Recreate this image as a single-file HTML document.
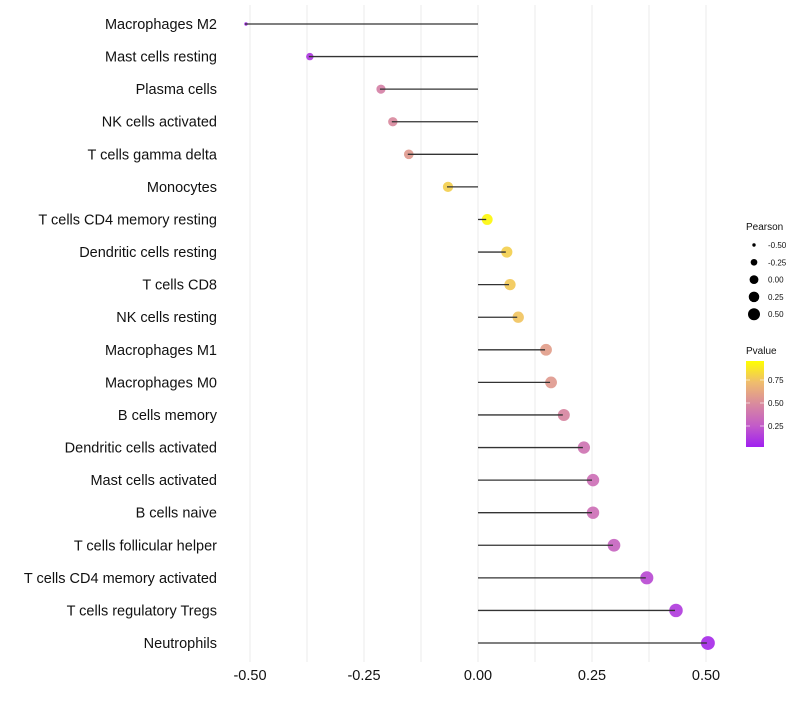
<!DOCTYPE html>
<html><head><meta charset="utf-8"><style>
body{margin:0;background:#fff;font-family:"Liberation Sans",sans-serif}
svg text{font-family:"Liberation Sans",sans-serif}
</style></head><body>
<svg id="chart" width="800" height="700">
<defs><linearGradient id="pg" x1="0" y1="1" x2="0" y2="0">
<stop offset="0" stop-color="#a020f0"/><stop offset="0.25" stop-color="#c35cc8"/><stop offset="0.5" stop-color="#d98a9e"/><stop offset="0.75" stop-color="#efbc6e"/><stop offset="1" stop-color="#ffff00"/>
</linearGradient></defs>
<g id="grid"></g>
<g id="marks"></g>
<g id="ylabels"></g>
<g id="xlabels"></g>
<g id="legend"></g>
</svg>
<script>
const categories=["Macrophages M2","Mast cells resting","Plasma cells","NK cells activated","T cells gamma delta","Monocytes","T cells CD4 memory resting","Dendritic cells resting","T cells CD8","NK cells resting","Macrophages M1","Macrophages M0","B cells memory","Dendritic cells activated","Mast cells activated","B cells naive","T cells follicular helper","T cells CD4 memory activated","T cells regulatory  Tregs ","Neutrophils"];
const pearson=[-0.511,-0.371,-0.215,-0.189,-0.154,-0.068,0.018,0.061,0.068,0.086,0.147,0.158,0.186,0.230,0.250,0.250,0.296,0.368,0.432,0.502];
const pvalue=[0.03,0.1,0.45,0.5,0.58,0.82,0.97,0.82,0.8,0.78,0.6,0.58,0.48,0.38,0.36,0.36,0.3,0.18,0.12,0.05];
const xTicks=[-0.5,-0.25,0,0.25,0.5];
const xTickLabels=["-0.50","-0.25","0.00","0.25","0.50"];
const sizeLegend=[-0.5,-0.25,0,0.25,0.5];
const sizeLegendLabels=["-0.50","-0.25","0.00","0.25","0.50"];
const pTicks=[0.25,0.5,0.75];
const pTickLabels=["0.25","0.50","0.75"];
const NS="http://www.w3.org/2000/svg";
function mk(t,a,p){const e=document.createElementNS(NS,t);for(const k in a)e.setAttribute(k,a[k]);p.appendChild(e);return e;}
const X=v=>478+v*456;
const Y=i=>24+i*32.58;
const RL=v=>Math.sqrt(2.9+(v+0.5)*33.1);
const R=v=>v<-0.37?Math.sqrt(Math.max(3,3+(v+0.511)*78)):Math.sqrt(15+(v+0.37)*38);
const stops=[[0,[160,32,240]],[0.25,[195,92,200]],[0.5,[217,138,158]],[0.75,[239,188,110]],[1,[255,255,0]]];
function col(p){for(let i=1;i<stops.length;i++){if(p<=stops[i][0]){const a=stops[i-1],b=stops[i];const t=(p-a[0])/(b[0]-a[0]);return 'rgb('+a[1].map((c,j)=>Math.round(c+(b[1][j]-c)*t)).join(',')+')';}}return 'rgb(255,255,0)';}
const grid=document.getElementById('grid');
for(let v=-0.5;v<=0.5001;v+=0.125){const g=mk('line',{x1:X(v),x2:X(v),y1:5,y2:662,stroke:'#ebebeb','stroke-width':1},grid);

}
const marks=document.getElementById('marks'),yl=document.getElementById('ylabels'),xl=document.getElementById('xlabels');
categories.forEach((c,i)=>{
 const y=Y(i);
 const c1=mk('circle',{cx:X(pearson[i])+1,cy:y,r:R(pearson[i]),fill:col(pvalue[i]),'fill-opacity':0.92},marks);
 
 
 const l=mk('line',{x1:X(0),x2:X(pearson[i]),y1:y,y2:y,stroke:'#333','stroke-width':1.3},marks);
 
 
 const t=mk('text',{x:217,y:y+5,'text-anchor':'end','font-size':14.5,fill:'#111'},yl);t.textContent=c;
 
 
});
xTicks.forEach((v,i)=>{const t=mk('text',{x:X(v),y:680,'text-anchor':'middle','font-size':14.5,fill:'#111'},xl);t.textContent=xTickLabels[i];

});
const lg=document.getElementById('legend');
let t=mk('text',{x:746,y:230,'font-size':10,fill:'#111'},lg);t.textContent='Pearson';


sizeLegend.forEach((v,i)=>{const y=245+i*17.3;const c=mk('circle',{cx:754,cy:y,r:RL(v),fill:'#000'},lg);


const tx=mk('text',{x:768,y:y+3,'font-size':8,fill:'#111'},lg);tx.textContent=sizeLegendLabels[i];

});
t=mk('text',{x:746,y:354,'font-size':10,fill:'#111'},lg);t.textContent='Pvalue';


const bar=mk('rect',{x:746,y:361,width:18,height:86,fill:'url(#pg)'},lg);


pTicks.forEach((v,i)=>{const y=449-v*92;
mk('line',{x1:746,x2:750,y1:y,y2:y,stroke:'#fff','stroke-opacity':0.6},lg);mk('line',{x1:760,x2:764,y1:y,y2:y,stroke:'#fff','stroke-opacity':0.6},lg);
const tx=mk('text',{x:768,y:y+3,'font-size':8,fill:'#111'},lg);tx.textContent=pTickLabels[i];

});
</script>
</body></html>
